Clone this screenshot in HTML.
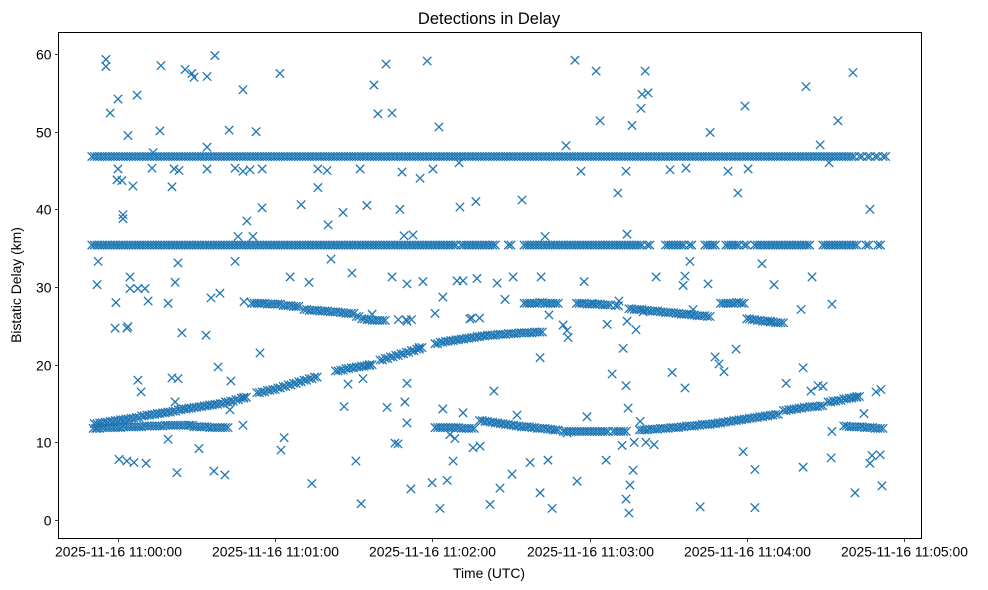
<!DOCTYPE html>
<html><head><meta charset="utf-8"><style>
html,body{margin:0;padding:0;background:#fff;}
svg{display:block;font-family:"Liberation Sans","DejaVu Sans",sans-serif;}
</style></head><body>
<svg id="chart" width="988" height="590" viewBox="0 0 988 590" xmlns="http://www.w3.org/2000/svg">
<rect x="0" y="0" width="988" height="590" fill="#fff"/>
<text x="489" y="24" text-anchor="middle" font-size="16.5" fill="#000">Detections in Delay</text>
<g id="marks"></g>
<g id="axes"></g>
<rect x="58.5" y="32.5" width="863" height="506" fill="none" stroke="#000" stroke-width="1"/>
<text x="489" y="578" text-anchor="middle" font-size="13.9">Time (UTC)</text>
<text x="21" y="285" text-anchor="middle" font-size="13.9" transform="rotate(-90 21 285)">Bistatic Delay (km)</text>
</svg>
<script>
// seconds relative to 11:00:00 UTC
const xTickSeconds = [0, 60, 120, 180, 240, 300];
const xTickLabels = ["2025-11-16 11:00:00","2025-11-16 11:01:00","2025-11-16 11:02:00","2025-11-16 11:03:00","2025-11-16 11:04:00","2025-11-16 11:05:00"];
const yTicks = [0, 10, 20, 30, 40, 50, 60];

const track47 = [[-10,46.8],[-8,46.8],[-6,46.8],[-4,46.8],[-2,46.8],[0,46.8],[2,46.8],[4,46.8],[6,46.8],[8,46.8],[10,46.8],[12,46.8],[14,46.8],[16,46.8],[18,46.8],[20,46.8],[22,46.8],[24,46.8],[26,46.8],[28,46.8],[30,46.8],[32,46.8],[34,46.8],[36,46.8],[38,46.8],[40,46.8],[42,46.8],[44,46.8],[46,46.8],[48,46.8],[50,46.8],[52,46.8],[54,46.8],[56,46.8],[58,46.8],[60,46.8],[62,46.8],[64,46.8],[66,46.8],[68,46.8],[70,46.8],[72,46.8],[74,46.8],[76,46.8],[78,46.8],[80,46.8],[82,46.8],[84,46.8],[86,46.8],[88,46.8],[90,46.8],[92,46.8],[94,46.8],[96,46.8],[98,46.8],[100,46.8],[102,46.8],[104,46.8],[106,46.8],[108,46.8],[110,46.8],[112,46.8],[114,46.8],[116,46.8],[118,46.8],[120,46.8],[122,46.8],[124,46.8],[126,46.8],[128,46.8],[130,46.8],[132,46.8],[134,46.8],[136,46.8],[138,46.8],[140,46.8],[142,46.8],[144,46.8],[146,46.8],[148,46.8],[150,46.8],[152,46.8],[154,46.8],[156,46.8],[158,46.8],[160,46.8],[162,46.8],[164,46.8],[166,46.8],[168,46.8],[170,46.8],[172,46.8],[174,46.8],[176,46.8],[178,46.8],[180,46.8],[182,46.8],[184,46.8],[186,46.8],[188,46.8],[190,46.8],[192,46.8],[194,46.8],[196,46.8],[198,46.8],[200,46.8],[202,46.8],[204,46.8],[206,46.8],[208,46.8],[210,46.8],[212,46.8],[214,46.8],[216,46.8],[218,46.8],[220,46.8],[222,46.8],[224,46.8],[226,46.8],[228,46.8],[230,46.8],[232,46.8],[234,46.8],[236,46.8],[238,46.8],[240,46.8],[242,46.8],[244,46.8],[246,46.8],[248,46.8],[250,46.8],[252,46.8],[254,46.8],[256,46.8],[258,46.8],[260,46.8],[262,46.8],[264,46.8],[266,46.8],[268,46.8],[270,46.8],[272,46.8],[274,46.8],[276,46.8],[278,46.8],[280,46.8],[283,46.8],[286,46.8],[289,46.8],[292,46.8]];

const track35 = [[-10,35.4],[-8,35.4],[-6,35.4],[-4,35.4],[-2,35.4],[0,35.4],[2,35.4],[4,35.4],[6,35.4],[8,35.4],[10,35.4],[12,35.4],[14,35.4],[16,35.4],[18,35.4],[20,35.4],[22,35.4],[24,35.4],[26,35.4],[28,35.4],[30,35.4],[32,35.4],[34,35.4],[36,35.4],[38,35.4],[40,35.4],[42,35.4],[44,35.4],[46,35.4],[48,35.4],[50,35.4],[52,35.4],[54,35.4],[56,35.4],[58,35.4],[60,35.4],[62,35.4],[64,35.4],[66,35.4],[68,35.4],[70,35.4],[72,35.4],[74,35.4],[76,35.4],[78,35.4],[80,35.4],[82,35.4],[84,35.4],[86,35.4],[88,35.4],[90,35.4],[92,35.4],[94,35.4],[96,35.4],[98,35.4],[100,35.4],[102,35.4],[104,35.4],[106,35.4],[108,35.4],[110,35.4],[112,35.4],[114,35.4],[116,35.4],[118,35.4],[120,35.4],[122,35.4],[124,35.4],[126,35.4],[128,35.4],[131,35.4],[133,35.4],[135,35.4],[137,35.4],[139,35.4],[141,35.4],[143,35.4],[149,35.4],[155,35.4],[157,35.4],[159,35.4],[161,35.4],[163,35.4],[165,35.4],[167,35.4],[169,35.4],[171,35.4],[173,35.4],[175,35.4],[177,35.4],[179,35.4],[181,35.4],[183,35.4],[185,35.4],[187,35.4],[189,35.4],[191,35.4],[193,35.4],[195,35.4],[197,35.4],[199,35.4],[202,35.4],[209,35.4],[211,35.4],[213,35.4],[215,35.4],[218,35.4],[224,35.4],[226,35.4],[227,35.4],[232,35.4],[234,35.4],[236,35.4],[239,35.4],[243,35.4],[245,35.4],[247,35.4],[249,35.4],[251,35.4],[253,35.4],[255,35.4],[257,35.4],[259,35.4],[261,35.4],[263,35.4],[269,35.4],[271,35.4],[273,35.4],[275,35.4],[277,35.4],[279,35.4],[281,35.4],[285.5,35.4],[290,35.4]];

const trackUpper = [[51,27.9],[53,27.9],[55,27.9],[57,27.8],[59,27.8],[61,27.8],[63,27.6],[65,27.6],[67,27.5],[68,27.5],[71,27.1],[73,27.0],[75,27.0],[77,26.9],[79,26.9],[81,26.8],[83,26.8],[85,26.7],[87,26.6],[89,26.6],[91,26.2],[93,25.9],[95,25.8],[97,25.7],[99,25.7],[101,25.7],[155,27.9],[157,27.9],[159,27.9],[161,28.0],[163,27.9],[165,27.9],[167,27.9],[175,27.9],[177,27.9],[179,27.8],[181,27.8],[183,27.8],[185,27.7],[187,27.7],[190,27.6],[195,27.2],[197,27.1],[199,27.1],[201,27.0],[203,26.9],[205,26.9],[207,26.8],[209,26.7],[211,26.7],[213,26.6],[215,26.5],[217,26.5],[219,26.4],[221,26.3],[223,26.3],[225,26.2],[230,27.9],[232,27.9],[234,27.9],[236,28.0],[238,27.9],[240,25.9],[242,25.8],[244,25.7],[246,25.6],[248,25.6],[249,25.5],[251,25.4],[253,25.4]];

const trackRising = [[-9,12.4],[-7,12.5],[-5,12.6],[-3,12.7],[-1,12.8],[1,12.9],[3,13.0],[5,13.1],[7,13.2],[9,13.4],[11,13.5],[13,13.6],[15,13.7],[17,13.8],[19,13.9],[21,14.0],[23,14.2],[25,14.3],[27,14.4],[29,14.5],[31,14.6],[33,14.7],[35,14.8],[37,14.9],[39,15.0],[41,15.2],[43,15.3],[45,15.5],[47,15.7],[48,15.8],[53,16.4],[55,16.5],[57,16.7],[59,16.8],[61,17.0],[63,17.2],[65,17.4],[67,17.6],[69,17.8],[71,18.0],[73,18.2],[75,18.4],[83,19.2],[85,19.3],[87,19.5],[89,19.6],[91,19.7],[93,19.8],[95,19.9],[96,20.0],[100,20.6],[102,20.8],[104,21.0],[106,21.2],[108,21.4],[110,21.6],[112,21.8],[114,22.0],[115,22.2],[121,22.7],[123,22.9],[125,23.0],[127,23.1],[129,23.2],[131,23.3],[133,23.4],[135,23.5],[137,23.6],[139,23.7],[141,23.8],[143,23.8],[145,23.9],[147,23.9],[149,24.0],[151,24.0],[153,24.1],[155,24.1],[157,24.1],[159,24.2],[161,24.2],[199,11.6],[201,11.6],[203,11.7],[205,11.7],[207,11.8],[209,11.8],[211,11.9],[213,11.9],[215,12.0],[217,12.1],[219,12.1],[221,12.2],[223,12.3],[225,12.3],[227,12.4],[229,12.5],[231,12.6],[233,12.7],[235,12.8],[237,12.9],[239,13.0],[241,13.1],[243,13.2],[245,13.3],[247,13.4],[249,13.5],[251,13.6],[254,14.1],[256,14.2],[258,14.3],[260,14.4],[262,14.5],[264,14.6],[266,14.6],[268,14.7],[271,15.2],[273,15.3],[275,15.4],[277,15.6],[279,15.7],[281,15.8],[282,15.9]];

const trackLower = [[-9.5,11.8],[-8,11.8],[-6,11.9],[-4,11.9],[-2,11.9],[0,11.9],[2,12.0],[4,12.0],[6,12.0],[8,12.0],[10,12.1],[12,12.1],[14,12.1],[16,12.1],[18,12.2],[20,12.2],[22,12.2],[24,12.2],[26,12.2],[27.5,12.2],[29,12.0],[31,12.0],[33,12.0],[35,11.9],[37,11.9],[39,11.9],[41,11.9],[121,11.9],[123,11.9],[125,11.9],[127,11.9],[129,11.9],[131,11.8],[133,11.8],[135,11.8],[138,12.8],[140,12.7],[142,12.6],[144,12.5],[146,12.4],[148,12.3],[150,12.2],[152,12.1],[154,12.0],[156,12.0],[158,11.9],[160,11.8],[162,11.8],[164,11.7],[166,11.6],[167,11.6],[170,11.4],[172,11.4],[174,11.4],[176,11.4],[178,11.4],[180,11.4],[182,11.4],[184,11.4],[186,11.4],[189,11.4],[191,11.4],[193,11.4],[277,12.1],[279,12.0],[281,12.0],[283,12.0],[285,11.9],[287,11.9],[289,11.8],[291,11.8]];

const outlierTimes = [-4.6,-4.6,-8,-7.6,-3,0,0,-0.4,1.5,1.9,1.9,5.7,3.8,7.3,4.6,-0.8,-1.1,3.4,3.8,4.6,7.6,11.5,10.3,13,13.4,16.4,16,20.6,21.4,25.6,28.2,23.3,29,34,34,34,37,42.4,47.7,47.7,50.4,55,44.7,45.8,51.5,49.2,55,52.7,61.8,69.9,76.3,80.2,85.9,79.8,76.3,92.4,95,97.7,99.2,102.3,104.6,107.6,109.2,112.6,108.4,115.3,118,120.2,122.5,130.5,130.2,136.6,154.2,163,171,174.4,176.7,182.5,184,190.8,193.9,194.3,196.2,199.6,200,201.2,202.3,210.7,216.8,226,232.8,236.6,239.3,240.5,262.6,268,271.4,274.8,280.5,287,
22.9,21.8,19.1,24.4,33.6,35.5,38.9,44.7,48.1,54.2,65.7,72.9,81.3,89.3,97,104.6,110.3,110.3,116.4,121,124,129.4,131.7,134.3,137,144.7,147.7,150.8,161.5,161.1,164.5,169.9,171.8,171.4,177.9,180.9,186.7,191.2,192.8,194.3,197.7,205.4,211.5,215.7,216.4,219.5,216.4,218.3,225.2,227.9,229.4,231.3,235.9,245.8,250.4,260.7,264.9,272.5,107,110,112,135,138,200.4,
3.4,0.4,6.1,10.7,7.6,8.8,20.6,22.9,19.1,22.5,21.8,30.9,36.6,40.8,42.7,43.1,38.2,47.7,62.2,63.4,74,86.3,87.8,90.8,92.8,93.5,102.7,105.7,106.9,109.5,110.3,110.3,111.8,119.9,122.9,124,125.6,126.7,127.9,128.6,131.7,135.5,138.2,142,145.8,143.5,150.4,152.3,157.3,161.1,164.1,165.7,171.4,175.2,179,186.3,188.6,192.4,193.9,193.9,194.7,195.4,196.6,197,199.3,201.5,204.6,222.2,238.6,243.1,243.1,255,261.5,261.5,264.5,267.2,269.1,272.2,272.5,281.3,284.7,287,287.8,290.9,289.3,291.2,291.6,195];
const outlierDelays = [59.3,58.4,30.3,33.3,52.4,54.2,45.2,43.8,43.7,39.3,38.8,43,49.5,54.7,31.3,28,24.7,24.7,24.9,29.8,29.8,28.2,29.8,45.3,47.3,58.5,50.1,42.9,45.2,58,57.5,45,57,57.1,48,45.2,59.8,50.2,55.4,44.9,45.1,45.2,45.3,36.5,36.5,38.5,40.2,50,57.5,40.6,42.8,38,39.6,45,45.2,45.2,40.5,56,52.3,58.7,52.4,40,36.6,36.7,44.8,44,59.1,45.2,50.6,40.3,46,41,41.2,36.5,48.2,59.2,44.9,57.8,51.4,42.1,44.9,36.8,50.8,53,54.8,57.8,55,45.1,45.3,49.9,44.9,42.1,53.3,45.2,55.8,48.3,46,51.4,57.6,40,
33.1,30.6,27.9,24.1,23.8,28.6,29.2,33.3,28.1,21.5,31.3,30.6,33.6,31.8,26.5,31.3,30.4,25.6,30.7,26.6,28.7,30.8,30.8,25.9,31.1,30.5,28.4,31.3,31.3,20.9,26.4,25.1,23.5,24.4,30.7,27.9,25.2,28.2,22.1,25.6,24.5,31.3,19,30.2,31.4,27.1,17,33.3,30.4,21,20.1,19.1,22,33,30.3,27.1,31.3,27.8,25.8,25.8,25.8,26.0,26.0,26.8,
7.6,7.8,7.4,7.3,18,16.5,18.3,18.2,10.4,6.1,15.2,9.2,6.3,5.8,14.2,17.9,19.7,12.2,9,10.6,4.7,14.6,17.5,7.6,2.1,18.2,14.5,9.9,9.8,15.2,17.6,12.5,4,4.8,1.5,14.3,5.1,11,7.6,10.5,13.8,9.3,9.5,2,4.1,16.6,5.9,13.5,7.4,3.5,7.7,1.5,11.2,5,13.3,7.7,18.8,9.6,17.3,2.7,14.4,4.5,6.4,10,12.7,10,9.7,1.7,8.8,6.5,1.6,17.6,19.6,6.8,16.6,17.3,17.2,8,11.4,3.5,13.7,7.3,8.3,8.4,16.5,16.8,4.4,0.9];

const NS = "http://www.w3.org/2000/svg";
const L = 58.5, R = 921.5, T = 32.5, B = 538.5;
function xScale(t){ return 118 + t * (786 / 300); }
function yScale(d){ return 520 - d * (466 / 60); }

const axes = document.getElementById('axes');
function mk(tag, attrs, parent){
  const e = document.createElementNS(NS, tag);
  for (const k in attrs) e.setAttribute(k, attrs[k]);
  parent.appendChild(e);
  return e;
}
yTicks.forEach(v => {
  const y = Math.round(yScale(v)) + 0.5;
  const tk = mk('line', {x1: L - 3.5, x2: L, y1: y, y2: y, stroke: '#000', 'stroke-width': 0.8}, axes);
  
  
  const lb = mk('text', {x: L - 7, y: y + 5, 'text-anchor': 'end', 'font-size': 13.9, fill: '#000'}, axes);
  lb.textContent = String(v);
  
  
});
xTickSeconds.forEach((s, i) => {
  const x = Math.round(xScale(s)) + 0.5;
  const tk = mk('line', {x1: x, x2: x, y1: B, y2: B + 3.5, stroke: '#000', 'stroke-width': 0.8}, axes);
  
  
  const lb = mk('text', {x: x, y: B + 18, 'text-anchor': 'middle', 'font-size': 13.9, fill: '#000'}, axes);
  lb.textContent = xTickLabels[i];
  
  
});

const marks = document.getElementById('marks');
const h = 4.2;
function marker(x, y){
  const p = mk('path', {d: `M${x-h},${y-h}L${x+h},${y+h}M${x-h},${y+h}L${x+h},${y-h}`, stroke: '#1f77b4', 'stroke-width': 1.3, fill: 'none'}, marks);
  
  
}
// dense tracks: each detection drawn with a slight overlapping copy (detections repeat per frame)
[track47, track35, trackUpper, trackRising, trackLower].forEach(tr => tr.forEach(p => {
  const x = xScale(p[0]), y = yScale(p[1]);
  marker(x, y);
  marker(x + 2.6, y);
}));
outlierTimes.forEach((t, i) => { if (i < outlierDelays.length) marker(xScale(t), yScale(outlierDelays[i])); });
</script>
</body></html>
